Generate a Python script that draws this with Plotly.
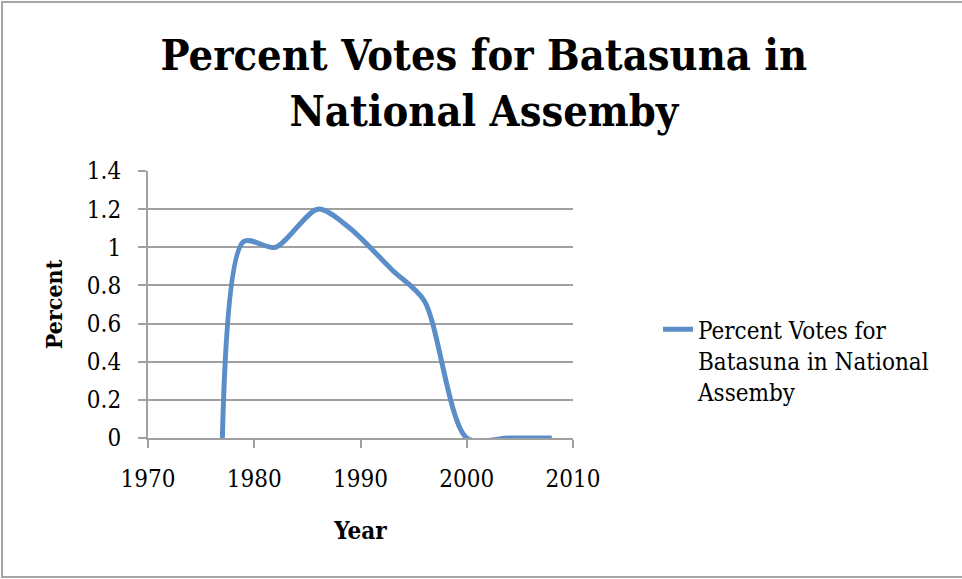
import plotly.graph_objects as go

years = [1977, 1979, 1982, 1986, 1989, 1993, 1996, 2000, 2004, 2008]
percent = [0, 1.03, 1.0, 1.2, 1.1, 0.88, 0.72, 0, 0, 0]
series_name = "Percent Votes for<br>Batasuna in National<br>Assemby"
title_text = "Percent Votes for Batasuna in<br>National Assemby"
x_ticks = [1970, 1980, 1990, 2000, 2010]
y_ticks = [0, 0.2, 0.4, 0.6, 0.8, 1, 1.2, 1.4]
y_ticktext = ["0", "0.2", "0.4", "0.6", "0.8", "1", "1.2", "1.4"]

FONT = "DejaVu Serif Condensed, DejaVu Serif"
GRID = "#a0a0a0"

fig = go.Figure()
fig.add_trace(go.Scatter(
    x=years, y=percent, mode="lines", name=series_name,
    line=dict(color="#5b8ec8", width=5, shape="spline", smoothing=0.8),
))

fig.update_layout(
    width=962, height=579,
    margin=dict(l=148, r=389, t=171, b=141),
    paper_bgcolor="white", plot_bgcolor="white",
    font=dict(family=FONT, color="black"),
    title=dict(text=title_text, x=0.503, xanchor="center", y=0.879, yanchor="middle",
               font=dict(family=FONT, size=43, color="black", weight="bold")),
    showlegend=True,
    legend=dict(x=1.2, xanchor="left", y=0.49, yanchor="top", valign="top",
                font=dict(family=FONT, size=24, color="black"),
                bgcolor="rgba(0,0,0,0)"),
    xaxis=dict(range=[1970, 2010], tickvals=x_ticks, ticktext=[str(v) for v in x_ticks],
               showgrid=False, zeroline=False, showline=True, linecolor=GRID, linewidth=2,
               ticks="outside", ticklen=8, tickwidth=2, tickcolor=GRID,
               tickfont=dict(family=FONT, size=24), ticklabelstandoff=10,
               layer="below traces",
               title=dict(text="<b>Year</b>", font=dict(family=FONT, size=24), standoff=30)),
    yaxis=dict(range=[0, 1.4], tickvals=y_ticks, ticktext=y_ticktext,
               showgrid=True, gridcolor=GRID, gridwidth=2, zeroline=False,
               showline=True, linecolor=GRID, linewidth=2,
               ticks="outside", ticklen=8, tickwidth=2, tickcolor=GRID,
               tickfont=dict(family=FONT, size=24), ticklabelstandoff=12,
               layer="below traces",
               title=dict(text="<b>Percent</b>", font=dict(family=FONT, size=23), standoff=18)),
    shapes=[dict(type="rect", xref="paper", yref="paper",
                 x0=-146/425, x1=(975-148)/425, y0=-139/267, y1=(438-2)/267,
                 line=dict(color="#a6a6a6", width=2), fillcolor="rgba(0,0,0,0)", layer="below")],
)

fig.write_html("out.html")
